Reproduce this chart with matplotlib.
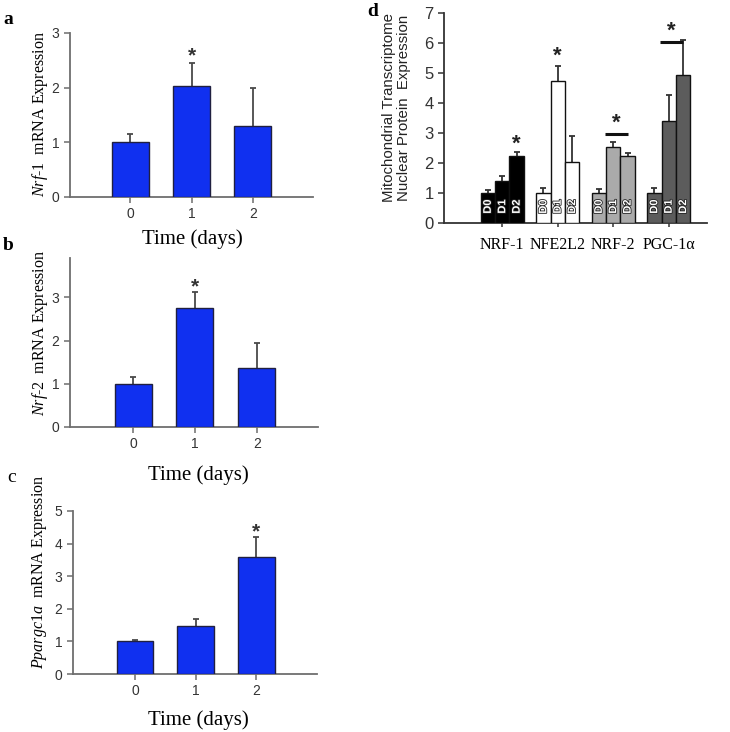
import matplotlib
matplotlib.use("Agg")
import matplotlib.pyplot as plt
import matplotlib.patheffects as pe
import numpy as np

plt.rcParams["mathtext.fontset"] = "custom"
plt.rcParams["mathtext.it"] = "Liberation Serif:italic"
plt.rcParams["mathtext.rm"] = "Liberation Serif"

# ---------------- data ----------------
days = [0, 1, 2]
day_labels = ["0", "1", "2"]

nrf1_mrna = [1.0, 2.03, 1.30]
nrf1_mrna_err = [0.15, 0.42, 0.70]

nrf2_mrna = [1.0, 2.75, 1.36]
nrf2_mrna_err = [0.16, 0.38, 0.58]

ppargc1a_mrna = [1.0, 1.46, 3.60]
ppargc1a_mrna_err = [0.05, 0.22, 0.59]

proteins = ["NRF-1", "NFE2L2", "NRF-2", "PGC-1\u03b1"]
day_codes = ["D0", "D1", "D2"]
protein_vals = [
    [1.0, 1.41, 2.22],
    [1.0, 4.72, 2.03],
    [1.0, 2.54, 2.22],
    [1.0, 3.39, 4.94],
]
protein_err = [
    [0.11, 0.15, 0.14],
    [0.17, 0.50, 0.88],
    [0.14, 0.15, 0.12],
    [0.17, 0.89, 1.17],
]
protein_colors = ["#000000", "#ffffff", "#aaaaaa", "#5c5c5c"]

# ---------------- figure ----------------
W, H = 730, 732
fig = plt.figure(figsize=(W / 100, H / 100), dpi=100)


def rect(l, t, r, b):
    return [l / W, 1 - b / H, (r - l) / W, (b - t) / H]


def fx(px):
    return px / W


def fy(py):
    return 1 - py / H


SERIF = "Liberation Serif"
SANS = "Liberation Sans"
BLUE = "#1030f0"
GRAY = "#6e6e6e"
TXT = "#333333"


def style_axes(ax, spine_color=GRAY):
    for s in ["top", "right"]:
        ax.spines[s].set_visible(False)
    for s in ["left", "bottom"]:
        ax.spines[s].set_color(spine_color)
        ax.spines[s].set_linewidth(1.3)
    ax.tick_params(direction="out", length=4, width=1.1, color=spine_color,
                   labelcolor=TXT, labelsize=10)
    for lab in ax.get_xticklabels() + ax.get_yticklabels():
        lab.set_fontfamily(SANS)


def mrna_panel(box, vals, errs, ylim, yticks, xlim, star_idx, star_y):
    ax = fig.add_axes(rect(*box))
    ax.bar(days, vals, width=0.6, color=BLUE, edgecolor="#202040", linewidth=1.0, zorder=3)
    ax.errorbar(days, vals, yerr=errs, fmt="none",
                ecolor="#4a4a4a", elinewidth=1.3, capsize=2.5, capthick=1.3, zorder=2)
    ax.set_xlim(*xlim)
    ax.set_ylim(*ylim)
    ax.set_yticks(yticks)
    ax.set_xticks(days)
    ax.set_xticklabels(day_labels)
    style_axes(ax)
    ax.text(days[star_idx], star_y, "*", ha="center", va="center",
            fontsize=15, fontweight="bold", color="#333333", family=SANS)
    return ax


# panel a
mrna_panel((70, 33, 313, 197), nrf1_mrna, nrf1_mrna_err, (0, 3), [0, 1, 2, 3],
           (-0.98, 2.98), 1, 2.58)
fig.text(fx(40), fy(114), r"$\mathit{Nrf}$-$\mathit{1}$  mRNA Expression", rotation=90,
         ha="center", va="center", fontsize=11.5, family=SERIF)
fig.text(fx(192), fy(239), "Time (days)", ha="center", va="center", fontsize=15, family=SERIF)
fig.text(fx(8), fy(20), "a", ha="center", va="center", fontsize=14, family=SERIF, fontweight="bold")

# panel b
mrna_panel((70, 258, 318, 427), nrf2_mrna, nrf2_mrna_err, (0, 3.91), [0, 1, 2, 3],
           (-1.02, 2.99), 1, 3.24)
fig.text(fx(40), fy(333), r"$\mathit{Nrf}$-$\mathit{2}$  mRNA Expression", rotation=90,
         ha="center", va="center", fontsize=11.5, family=SERIF)
fig.text(fx(198), fy(475), "Time (days)", ha="center", va="center", fontsize=15, family=SERIF)
fig.text(fx(8), fy(245), "b", ha="center", va="center", fontsize=14, family=SERIF, fontweight="bold")

# panel c
mrna_panel((73, 511, 317, 674), ppargc1a_mrna, ppargc1a_mrna_err, (0, 5), [0, 1, 2, 3, 4, 5],
           (-1.02, 3.0), 2, 4.36)
fig.text(fx(40), fy(572), r"$\mathit{Ppargc1a}$  mRNA Expression", rotation=90,
         ha="center", va="center", fontsize=11.5, family=SERIF)
fig.text(fx(198), fy(720), "Time (days)", ha="center", va="center", fontsize=15, family=SERIF)
fig.text(fx(12), fy(478), "c", ha="center", va="center", fontsize=14, family=SERIF)

# panel d
axd = fig.add_axes(rect(444, 13, 707, 223))
bw = 0.26
groups = np.arange(len(proteins))
offsets = (np.arange(3) - 1) * bw
for g in groups:
    xs = g + offsets
    axd.bar(xs, protein_vals[g], width=bw, color=protein_colors[g], edgecolor="#111111",
            linewidth=1.0, zorder=3)
    axd.errorbar(xs, protein_vals[g], yerr=protein_err[g], fmt="none",
                 ecolor="#333333", elinewidth=1.3, capsize=2.2, capthick=1.3, zorder=2)
    for x, code in zip(xs, day_codes):
        t = axd.text(x, 0.55, code, rotation=90, ha="center", va="center", fontsize=8,
                     fontweight="bold", color="white", family=SANS, zorder=5)
        t.set_path_effects([pe.withStroke(linewidth=1.2, foreground="#222222")])

axd.set_xlim(-1.05, 3.69)
axd.set_ylim(0, 7)
axd.set_yticks(range(8))
axd.set_xticks(groups)
axd.set_xticklabels(proteins)
style_axes(axd, spine_color="#333333")
axd.tick_params(axis="y", labelsize=12)
axd.tick_params(axis="x", length=3, pad=7)
for lab in axd.get_xticklabels():
    lab.set_fontfamily(SERIF)
    lab.set_fontsize(11.5)
    lab.set_color("black")

# significance marks
star_kw = dict(ha="center", va="center", fontsize=16, fontweight="bold", color="#222222", family=SANS)
axd.text(0 + offsets[2], 2.62, "*", **star_kw)
axd.text(1 + offsets[1], 5.56, "*", **star_kw)
for g, ly, sy in [(2, 2.98, 3.33), (3, 6.03, 6.39)]:
    x0 = g + offsets[1] - 0.6 * bw
    x1 = g + offsets[2]
    axd.plot([x0, x1], [ly, ly], color="#111111", lw=2.2, solid_capstyle="butt", zorder=4)
    axd.text((x0 + x1) / 2, sy, "*", **star_kw)

fig.text(fx(396.5), fy(108), "Mitochondrial Transcriptome\nNuclear Protein  Expression",
         rotation=90, ha="center", va="center", fontsize=10.8, linespacing=1.15,
         family=["Liberation Sans Narrow", "Liberation Sans", "DejaVu Sans"], color="#222222")
fig.text(fx(373), fy(12), "d", ha="center", va="center", fontsize=14, family=SERIF, fontweight="bold")

fig.savefig("out.png", dpi=100, facecolor="white")
